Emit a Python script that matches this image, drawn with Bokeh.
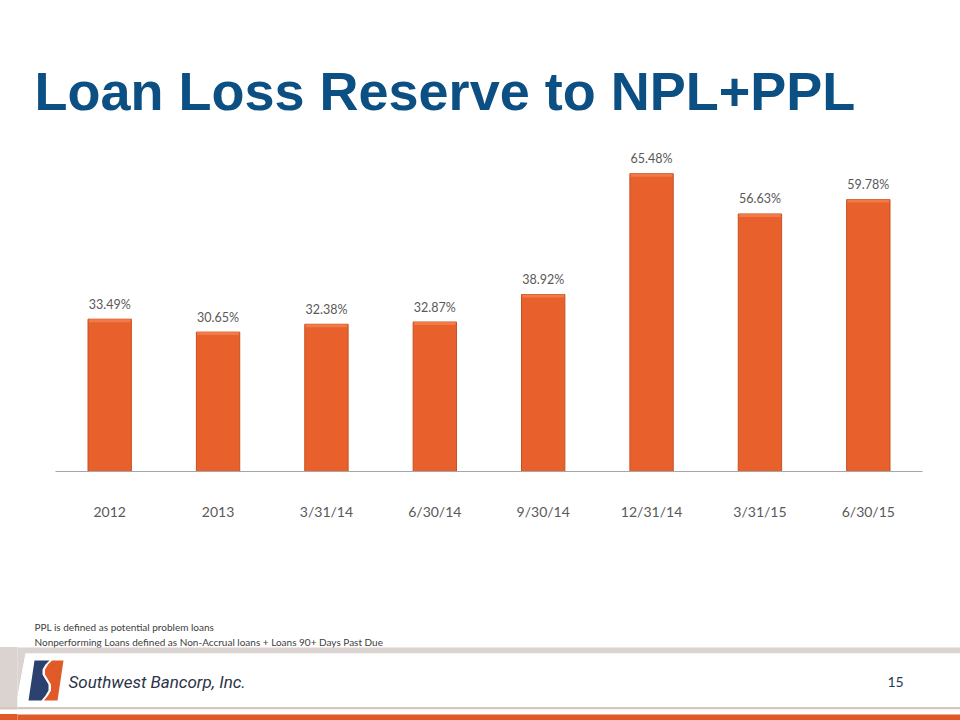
from bokeh.plotting import figure
from bokeh.models import Range1d, FactorRange, ColumnDataSource
from bokeh.core.properties import value
from bokeh.embed import file_html
from bokeh.resources import INLINE

# ---- data ----
categories = ["2012", "2013", "3/31/14", "6/30/14", "9/30/14", "12/31/14", "3/31/15", "6/30/15"]
ratios = [33.49, 30.65, 32.38, 32.87, 38.92, 65.48, 56.63, 59.78]
labels = [f"{v:.2f}%" for v in ratios]
title_text = "Loan Loss Reserve to NPL+PPL"
notes = ["PPL is defined as potential problem loans",
         "Nonperforming Loans defined as Non-Accrual loans + Loans 90+ Days Past Due"]
company = "Southwest Bancorp, Inc."
page_number = "15"

# ---- layout constants (page pixels) ----
W, H = 960, 720
AX_L, AX_R, BASE = 55, 922, 471          # category axis extent and baseline
PX_PER_PCT = 4.548                        # vertical scale of the bars
UNIT = (AX_R - AX_L) / len(categories)    # width of one category
PAD = W - AX_R                            # symmetric padding of the factor range
LEFT = AX_L - PAD                         # left border so that padding is symmetric
BAR = "#E8602C"
GREY_TXT = "#595959"

css_bg = ("linear-gradient(#DAD3CF,#DAD3CF) 0 647px/100% 6px no-repeat,"
          "linear-gradient(#DAD3CF,#DAD3CF) 0 653px/100% 54px no-repeat,"
          "linear-gradient(#D5C6BE,#D5C6BE) 0 706.5px/100% 2.5px no-repeat,"
          "linear-gradient(#E05A27,#E05A27) 0 714px/100% 6px no-repeat,white")

p = figure(width=W, height=H,
           x_range=FactorRange(*categories, range_padding=PAD / UNIT, range_padding_units="absolute"),
           y_range=Range1d(-(H - BASE) / PX_PER_PCT, BASE / PX_PER_PCT),
           output_backend="svg", toolbar_location=None, x_axis_location=None, y_axis_location=None,
           min_border_left=LEFT, min_border_right=0, min_border_top=0, min_border_bottom=0,
           styles={"background": css_bg})
p.grid.visible = False
p.outline_line_color = None
p.background_fill_color = "white"
p.border_fill_color = None
p.extra_y_ranges = {"py": Range1d(H, 0)}   # page pixel rows for slide decorations
PG = dict(y_range_name="py")


def X(px):
    """page pixel column -> synthetic categorical coordinate (decorations only)"""
    return (px - AX_L) / UNIT


# ---- bars and labels ----
bevel = 3 / PX_PER_PCT
src = ColumnDataSource(dict(cat=categories, val=ratios, lab=labels,
                            zero=[0] * len(categories), hi=[v - bevel for v in ratios]))
p.vbar(x="cat", top="val", width=0.4, source=src, fill_color=BAR, line_color="#C65120", line_width=1)
p.vbar(x="cat", top="val", bottom="hi", width=0.385, source=src, fill_color="#F07A48", line_color=None)
p.text(x="cat", y="val", text="lab", source=src, y_offset=-15, text_align="center",
       text_baseline="middle", text_font=value("Lato"), text_font_size="12.5px", text_color=GREY_TXT)
# category axis
p.line(x=[X(AX_L), X(AX_R)], y=[BASE, BASE], line_color="#A6A6A6", line_width=1, **PG)
p.text(x="cat", y="zero", text="cat", source=src, y_offset=40, text_align="center",
       text_baseline="middle", text_font=value("Lato"), text_font_size="14px", text_color=GREY_TXT)

# ---- title ----
p.text(x=[X(34)], y=[90], text=[title_text], text_font=value("Liberation Sans"), text_font_style="bold",
       text_font_size="54px", text_color="#0B4F83", text_baseline="alphabetic", text_align="left", **PG)

# ---- footnotes ----
p.text(x=[X(34), X(34)], y=[626, 641], text=notes, text_font=value("Lato"), text_font_size="10px",
       text_color="#404040", text_baseline="middle", text_align="left", **PG)

# ---- footer ----
p.patch(x=[X(v) for v in [0, 960, 960, 25, 15, 0]], y=[647, 647, 653, 653, 707, 707],
        fill_color="#DAD3CF", line_color=None, **PG)
p.patch(x=[X(v) for v in [25, 960, 960, 15]], y=[653, 653, 706.5, 706.5],
        fill_color="white", line_color=None, **PG)
p.quad(left=[X(0)], right=[X(960)], top=[706.5], bottom=[709], fill_color="#D5C6BE", line_color=None, **PG)
p.quad(left=[X(0)], right=[X(960)], top=[709], bottom=[714], fill_color="white", line_color=None, **PG)
p.quad(left=[X(0)], right=[X(960)], top=[714], bottom=[720], fill_color="#E05A27", line_color=None, **PG)
# logo
p.patch(x=[X(v) for v in [51.5, 63, 57, 43.5, 47.5, 50.5, 50.5, 47.5, 44.5, 44.5, 47.5]],
        y=[660, 660, 700, 700, 695, 690, 684, 679, 674, 669, 664],
        fill_color="#E05A27", line_color=None, **PG)
p.patch(x=[X(v) for v in [34, 49, 45, 42, 42, 45, 48, 48, 45, 41, 28]],
        y=[660, 660, 664, 669, 674, 679, 684, 690, 695, 700, 700],
        fill_color="#2B4170", line_color=None, **PG)
p.text(x=[X(68)], y=[681], text=[company], text_font=value("Roboto"),
       text_font_style="italic", text_font_size="17px", text_color="#2C3447",
       text_baseline="middle", text_align="left", **PG)
p.text(x=[X(895)], y=[681], text=[page_number], text_font=value("Lato"), text_font_size="14px",
       text_color="#1F3A5A", text_baseline="middle", text_align="center", **PG)

open("out.html", "w").write(file_html(p, INLINE))
